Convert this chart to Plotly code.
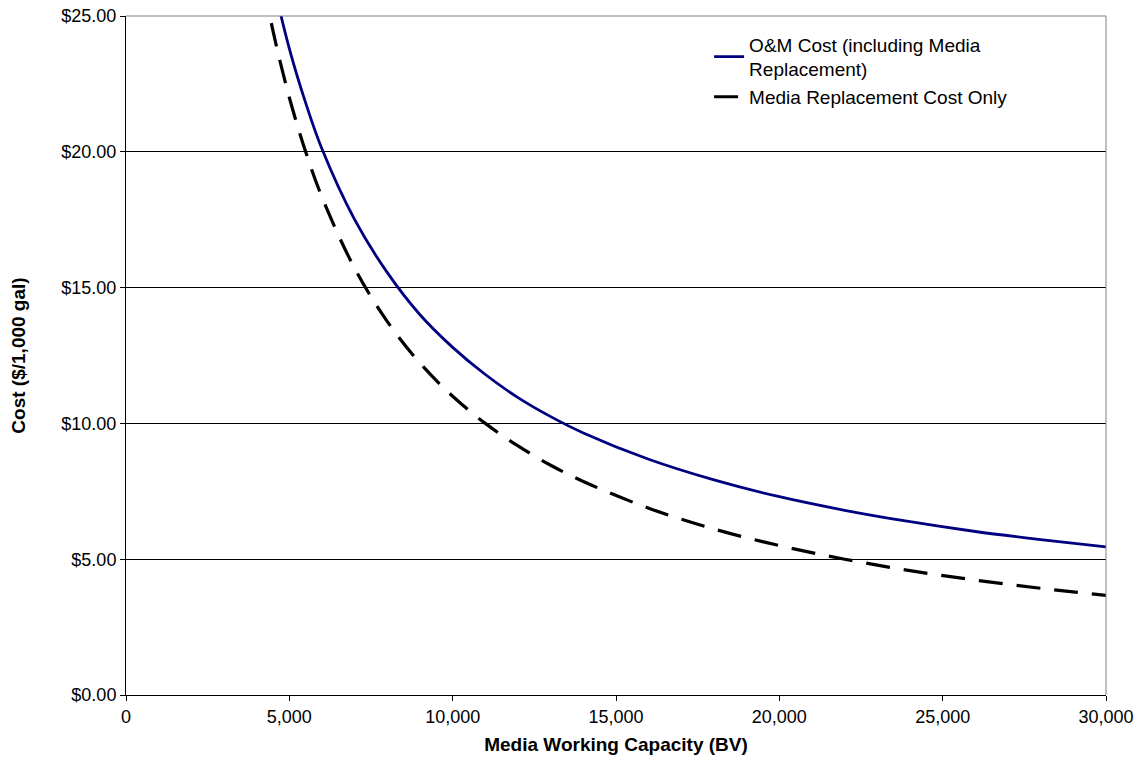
import plotly.graph_objects as go

capacity = [4000, 4500, 5000, 5500, 6000, 7000, 8000, 9000, 10000, 11000, 12000, 13000, 14000,
            16000, 18000, 20000, 22000, 24000, 26000, 28000, 30000]
om_cost = [29.30, 26.30, 23.80, 21.80, 20.10, 17.50, 15.55, 14.00, 12.80, 11.80, 10.95, 10.25, 9.65,
           8.68, 7.92, 7.30, 6.80, 6.38, 6.02, 5.72, 5.45]
media_cost = [27.50, 24.45, 22.00, 20.00, 18.33, 15.71, 13.75, 12.22, 11.00, 10.00, 9.17, 8.46, 7.86,
              6.88, 6.11, 5.50, 5.00, 4.58, 4.23, 3.93, 3.67]

x_ticks = [0, 5000, 10000, 15000, 20000, 25000, 30000]
x_tick_labels = ["0", "5,000", "10,000", "15,000", "20,000", "25,000", "30,000"]
y_ticks = [0, 5, 10, 15, 20, 25]
y_tick_labels = ["$0.00", "$5.00", "$10.00", "$15.00", "$20.00", "$25.00"]

font = "Liberation Sans, Arial, sans-serif"

fig = go.Figure()
fig.add_trace(go.Scatter(
    x=capacity, y=om_cost, mode="lines", line=dict(color="#000080", width=2.8, shape="spline"),
    name="O&M Cost (including Media<br>Replacement)", cliponaxis=True))
fig.add_trace(go.Scatter(
    x=capacity, y=media_cost, mode="lines",
    line=dict(color="black", width=3.2, dash="24px,14px", shape="spline"),
    name="Media Replacement Cost Only", cliponaxis=True))

fig.update_layout(
    width=1141, height=770,
    margin=dict(l=126, r=35, t=16, b=75, autoexpand=False),
    paper_bgcolor="white", plot_bgcolor="white",
    font=dict(family=font, size=18, color="black"),
    showlegend=True,
    legend=dict(x=0.595, y=0.986, xanchor="left", yanchor="top", bgcolor="rgba(0,0,0,0)",
                font=dict(family=font, size=19, color="black"), tracegroupgap=2),
    xaxis=dict(range=[0, 30000], tickvals=x_ticks, ticktext=x_tick_labels,
               showgrid=False, zeroline=False,
               showline=True, linecolor="black", linewidth=1, mirror=False,
               ticks="outside", ticklen=5, tickcolor="black", tickfont=dict(size=18),
               title=dict(text="<b>Media Working Capacity (BV)</b>", font=dict(size=19), standoff=12)),
    yaxis=dict(range=[0, 25], tickvals=y_ticks, ticktext=y_tick_labels,
               showgrid=True, gridcolor="black", gridwidth=1, zeroline=False,
               showline=True, linecolor="black", linewidth=1,
               ticks="outside", ticklen=5, tickcolor="black", tickfont=dict(size=18),
               title=dict(text="<b>Cost ($/1,000 gal)</b>", font=dict(size=19), standoff=30)),
)
# gray border on top and right of plot area
fig.add_shape(type="line", xref="paper", yref="paper", x0=0, x1=1, y0=1, y1=1,
              line=dict(color="#808080", width=1))
fig.add_shape(type="line", xref="paper", yref="paper", x0=1, x1=1, y0=0, y1=1,
              line=dict(color="#808080", width=1))

fig.write_html("out.html")
